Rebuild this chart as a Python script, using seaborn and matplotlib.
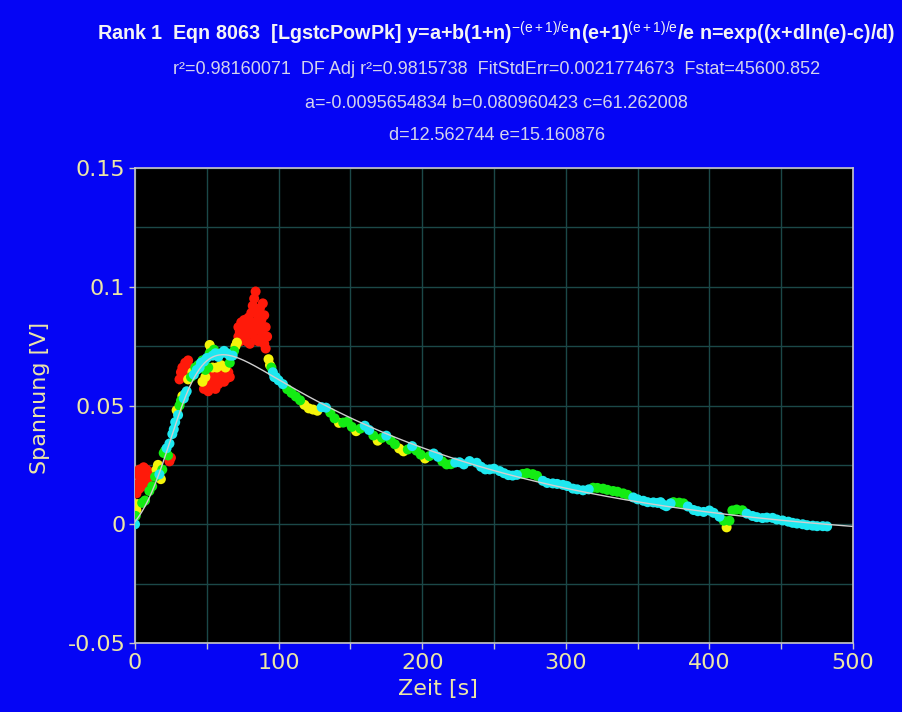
import numpy as np
import pandas as pd
import matplotlib
matplotlib.use("Agg")
import matplotlib.pyplot as plt
import seaborn as sns
from matplotlib.ticker import FixedLocator, MultipleLocator, FixedFormatter

# Fitted parameters of the LgstcPowPk peak equation (Eqn 8063)
a = -0.0095654834
b = 0.080960423
c = 61.262008
d = 12.562744
e = 15.160876

r2 = 0.98160071
adj_r2 = 0.9815738
fit_std_err = 0.0021774673
f_stat = 45600.852

# Measured trace: time in seconds, voltage in volts
zeit = [
    0, 0.5, 1, 1.5, 1, 2, 2, 3, 3, 4, 5, 5, 6, 6, 7, 8, 8, 9, 10,
    5, 7, 10, 12, 14, 15, 16, 17, 18, 19, 20, 21, 22, 23, 24, 25,
    24, 26, 27, 28, 29, 30, 31, 32, 33, 34, 35, 36,
    31, 32, 33, 34, 35, 36, 37, 38,
    37, 39, 40, 41, 42, 43, 44, 45, 46, 47,
    48, 50, 52, 52, 54, 56, 58, 60, 62, 64, 66, 68, 53, 55,
    49, 51, 54, 57, 60, 63, 66,
    47, 48, 49, 50, 51, 52, 53, 54, 55, 56, 57, 58, 59, 60, 61, 62, 63, 64, 65, 66,
    69, 70, 71, 72, 72, 73, 73, 74, 74, 75, 75, 76, 76, 77, 77, 78, 78, 79, 79,
    80, 80, 80, 81, 82, 82, 83, 83, 84, 84, 85, 85, 86, 86, 87, 87, 88, 88,
    89, 89, 90, 90, 91, 91, 92,
    93, 94, 95, 96, 97, 98,
    100, 103, 106, 109, 112, 115, 118, 121, 124, 127, 130, 133, 136, 139,
    142, 145, 148, 151, 154, 157, 160, 163, 166, 169, 172, 175, 178, 181,
    184, 187, 190, 193, 196, 199, 202, 205, 208, 211, 214, 217, 220, 223,
    226, 229, 233, 238, 241, 244, 247, 250, 254, 257, 260, 263, 266, 270,
    273, 277, 280, 284, 287, 291, 294, 298, 301, 305, 308, 312, 316, 319,
    322, 326, 329, 333, 336, 340, 343, 347, 350, 354, 357, 361, 364, 366,
    368, 370, 373, 375, 379, 382, 385, 389, 392, 396, 400, 403, 407, 410,
    412, 414, 416, 419, 423, 426, 430, 433, 437, 440, 444, 447, 451, 455,
    458, 461, 465, 468, 472, 475, 479, 482,
]
spannung = [
    0.0000, 0.0035, 0.0060, 0.0085, 0.013, 0.017, 0.021, 0.015, 0.023, 0.019,
    0.022, 0.016, 0.020, 0.024, 0.018, 0.021, 0.023, 0.019, 0.022,
    0.009, 0.010, 0.014, 0.016, 0.020, 0.023, 0.025, 0.021, 0.019, 0.023,
    0.030, 0.031, 0.032, 0.029, 0.0265, 0.028,
    0.034, 0.038, 0.040, 0.043, 0.048, 0.046, 0.050, 0.052, 0.054, 0.053,
    0.055, 0.056,
    0.061, 0.064, 0.066, 0.062, 0.068, 0.065, 0.069, 0.066,
    0.061, 0.062, 0.064, 0.063, 0.066, 0.065, 0.067, 0.066, 0.068, 0.069,
    0.0685, 0.070, 0.072, 0.0755, 0.071, 0.072, 0.0705, 0.072, 0.073, 0.072,
    0.071, 0.071, 0.074, 0.0735,
    0.065, 0.066, 0.066, 0.066, 0.067, 0.066, 0.068,
    0.060, 0.057, 0.062, 0.059, 0.056, 0.061, 0.058, 0.063, 0.060, 0.057,
    0.062, 0.059, 0.063, 0.061, 0.064, 0.060, 0.063, 0.0615, 0.064, 0.062,
    0.073, 0.075, 0.0765, 0.079, 0.083, 0.077, 0.081, 0.081, 0.085, 0.078,
    0.083, 0.082, 0.086, 0.079, 0.084, 0.084, 0.077, 0.080, 0.087,
    0.076, 0.083, 0.085, 0.089, 0.080, 0.092, 0.095, 0.085, 0.098, 0.078,
    0.090, 0.082, 0.087, 0.077, 0.084, 0.091, 0.079, 0.086,
    0.093, 0.082, 0.088, 0.076, 0.083, 0.074, 0.079,
    0.0695, 0.067, 0.066, 0.064, 0.062, 0.062,
    0.0606, 0.0590, 0.0569, 0.0553, 0.0538, 0.0522, 0.0503, 0.0488, 0.0483,
    0.0478, 0.0493, 0.0491, 0.0470, 0.0446, 0.0427, 0.0428, 0.0432, 0.0410,
    0.0392, 0.0403, 0.0415, 0.0397, 0.0374, 0.0352, 0.0364, 0.0373, 0.0354,
    0.0337, 0.0319, 0.0307, 0.0315, 0.0329, 0.0310, 0.0293, 0.0277, 0.0287,
    0.0298, 0.0284, 0.0265, 0.0252, 0.0253, 0.0260, 0.0261, 0.0252, 0.0266,
    0.0259, 0.0242, 0.0231, 0.0231, 0.0234, 0.0224, 0.0215, 0.0207, 0.0205,
    0.0208, 0.0212, 0.0215, 0.0211, 0.0204, 0.0183, 0.0174, 0.0172, 0.0170,
    0.0166, 0.0161, 0.0150, 0.0147, 0.0143, 0.0147, 0.0154, 0.0153, 0.0150,
    0.0145, 0.0140, 0.0137, 0.0130, 0.0124, 0.0113, 0.0105, 0.0099, 0.0093,
    0.0092, 0.0090, 0.0093, 0.0082, 0.0076, 0.0088, 0.0093, 0.0091, 0.0088,
    0.0075, 0.0060, 0.0055, 0.0052, 0.0058, 0.0048, 0.0032, 0.0015, -0.0013,
    0.0015, 0.0058, 0.0062, 0.0059, 0.0045, 0.0035, 0.0030, 0.0026, 0.0028,
    0.0027, 0.0020, 0.0016, 0.0011, 0.0006, 0.0003, 0.0000, -0.0004, -0.0006,
    -0.0008, -0.0008, -0.0009,
]

x_ticks = [0, 100, 200, 300, 400, 500]
x_tick_labels = ["0", "100", "200", "300", "400", "500"]
y_ticks = [-0.05, 0, 0.05, 0.1, 0.15]
y_tick_labels = ["-0.05", "0", "0.05", "0.1", "0.15"]

# Residual bands, from farthest to closest to the fitted curve
band_names = ["ausreisser", "fern", "mittel", "nah"]
band_colors = {"ausreisser": "#ff1a0a", "fern": "#f4f40a",
               "mittel": "#14ec14", "nah": "#1ee8f0"}


def lgstc_pow_pk(x):
    n = np.exp((x + d * np.log(e) - c) / d)
    return a + b * (1 + n) ** (-(e + 1) / e) * n * (e + 1) ** ((e + 1) / e) / e


df = pd.DataFrame({"zeit": zeit, "spannung": spannung})
resid = np.abs(df["spannung"] - lgstc_pow_pk(df["zeit"].to_numpy()))
df["band"] = np.select([resid < 0.0018, resid < 0.0036, resid < 0.007],
                       ["nah", "mittel", "fern"], "ausreisser")
df["rank"] = df["band"].map({n: i for i, n in enumerate(band_names)})
df = df.sort_values("rank", kind="stable")

x_fit = np.linspace(0, 500, 600)
fit_df = pd.DataFrame({"zeit": x_fit, "spannung": lgstc_pow_pk(x_fit)})

bg_blue = "#0505f5"
tick_yellow = "#ece6a6"
grid_col = "#1b4848"

fig = plt.figure(figsize=(9.03, 7.12), dpi=100, facecolor=bg_blue)
ax = fig.add_axes([0.1495, 0.0969, 0.7951, 0.6671])
ax.set_facecolor("black")

plt.rcParams["font.family"] = ["Liberation Sans", "DejaVu Sans"]
plt.rcParams["mathtext.fontset"] = "custom"
plt.rcParams["mathtext.rm"] = "Liberation Sans"
plt.rcParams["mathtext.it"] = "Liberation Sans"
plt.rcParams["mathtext.bf"] = "Liberation Sans:bold"
plt.rcParams["mathtext.default"] = "regular"

sns.scatterplot(data=df, x="zeit", y="spannung", hue="band",
                palette=band_colors, s=52, marker="o", linewidth=0,
                legend=False, ax=ax, zorder=3)
sns.lineplot(data=fit_df, x="zeit", y="spannung", color="#cfcfcf",
             linewidth=1.0, ax=ax, zorder=4)

ax.set_xlim(0, 500)
ax.set_ylim(-0.05, 0.15)
ax.xaxis.set_major_locator(FixedLocator(x_ticks))
ax.xaxis.set_major_formatter(FixedFormatter(x_tick_labels))
ax.xaxis.set_minor_locator(MultipleLocator(50))
ax.yaxis.set_major_locator(FixedLocator(y_ticks))
ax.yaxis.set_major_formatter(FixedFormatter(y_tick_labels))
ax.yaxis.set_minor_locator(MultipleLocator(0.025))

ax.grid(True, which="both", color=grid_col, linewidth=1.0, zorder=0)
ax.set_axisbelow(True)
ax.tick_params(axis="both", which="major", direction="out", length=4,
               width=1, color="#c8c8c8", labelcolor=tick_yellow,
               labelsize=16, pad=3)
ax.tick_params(axis="x", which="minor", direction="out", length=4,
               width=1, color="#c8c8c8")
ax.tick_params(axis="y", which="minor", length=0)
for sp in ax.spines.values():
    sp.set_color("#c8c8c8")
    sp.set_linewidth(1.2)

ax.set_xlabel("Zeit [s]", color=tick_yellow, fontsize=16)
ax.set_ylabel("Spannung [V]", color=tick_yellow, fontsize=16)
ax.xaxis.set_label_coords(0.422, -0.075)
ax.yaxis.set_label_coords(-0.118, 0.515)

cx = 0.55
fig.text(cx, 0.9537,
         "Rank 1  Eqn 8063  [LgstcPowPk] y=a+b(1+n)$^{\\mathrm{-(e+1)/e}}$"
         "n(e+1)$^{\\mathrm{(e+1)/e}}$/e n=exp((x+dln(e)-c)/d)",
         ha="center", va="center", color="#f4f4f4", fontsize=14.2,
         fontweight="bold")
fig.text(cx, 0.9017,
         f"r\u00b2={r2:.8f}  DF Adj r\u00b2={adj_r2:.7f}  "
         f"FitStdErr={fit_std_err:.10f}  Fstat={f_stat:.3f}",
         ha="center", va="center", color="#d4d4ec", fontsize=13)
fig.text(cx, 0.8553, f"a={a:.10f} b={b:.9f} c={c:.6f}",
         ha="center", va="center", color="#d4d4ec", fontsize=13)
fig.text(cx, 0.809, f"d={d:.6f} e={e:.6f}",
         ha="center", va="center", color="#d4d4ec", fontsize=13)

fig.savefig("out.png", dpi=100, facecolor=bg_blue)
